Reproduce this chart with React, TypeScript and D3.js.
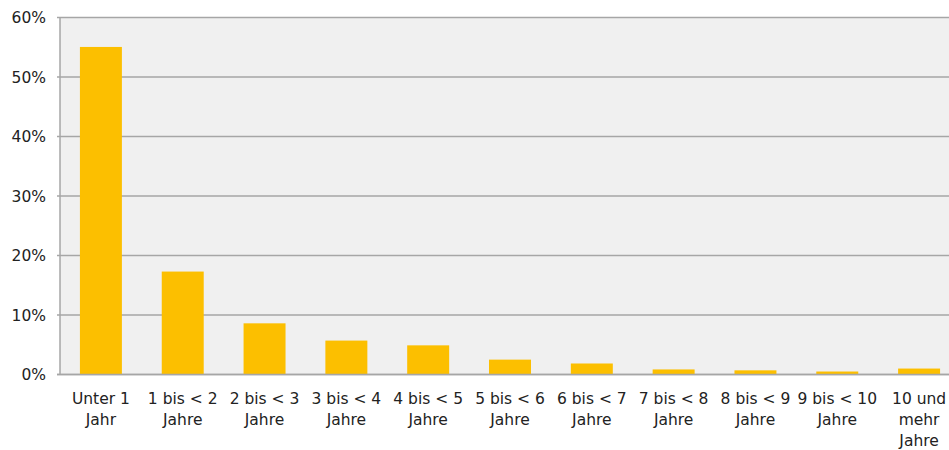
import React from "react";
import * as d3 from "d3";

const categories: string[][] = [
  ["Unter 1", "Jahr"],
  ["1 bis < 2", "Jahre"],
  ["2 bis < 3", "Jahre"],
  ["3 bis < 4", "Jahre"],
  ["4 bis < 5", "Jahre"],
  ["5 bis < 6", "Jahre"],
  ["6 bis < 7", "Jahre"],
  ["7 bis < 8", "Jahre"],
  ["8 bis < 9", "Jahre"],
  ["9 bis < 10", "Jahre"],
  ["10 und", "mehr", "Jahre"],
];
const values: number[] = [55.05, 17.3, 8.6, 5.7, 4.9, 2.5, 1.85, 0.85, 0.7, 0.5, 1.0];
const yTicks: number[] = [0, 10, 20, 30, 40, 50, 60];

const W = 949;
const H = 450;
const left = 60;
const right = 960;
const top = 17.5;
const bottom = 374.5;
const font = "'DejaVu Sans', sans-serif";

export default function App() {
  const keys = categories.map((c, i) => String(i));
  const x = d3.scaleBand<string>().domain(keys).range([left, right]).paddingInner(0.487).paddingOuter(0.2435);
  const y = d3.scaleLinear().domain([0, 60]).range([bottom, top]);
  return (
    <svg width={W} height={H} style={{ position: "absolute", left: 0, top: 0 }}>
      <rect x={left} y={top} width={right - left} height={bottom - top} fill="#f0f0f0" />
      {yTicks.map((t) => (
        <g key={t}>
          <line x1={left - 3} x2={right} y1={y(t)} y2={y(t)} stroke="#a6a6a6" strokeWidth={1.5} />
          <text x={46} y={y(t)} dy="0.36em" textAnchor="end" fontFamily={font} fontSize={15.5} fill="#222">
            {t}%
          </text>
        </g>
      ))}
      {values.map((v, i) => (
        <rect key={i} x={x(String(i))} y={y(v)} width={x.bandwidth()} height={y(0) - y(v)} fill="#fcbf00" />
      ))}
      <line x1={left} x2={left} y1={top} y2={bottom} stroke="#a6a6a6" strokeWidth={1.5} />
      <line x1={left - 3} x2={right} y1={bottom} y2={bottom} stroke="#a6a6a6" strokeWidth={1.5} />
      {categories.map((lines, i) => (
        <text key={i} textAnchor="middle" fontFamily={font} fontSize={15.5} fill="#222">
          {lines.map((l, j) => (
            <tspan key={j} x={(x(String(i)) as number) + x.bandwidth() / 2} y={404 + j * 21}>
              {l}
            </tspan>
          ))}
        </text>
      ))}
    </svg>
  );
}
